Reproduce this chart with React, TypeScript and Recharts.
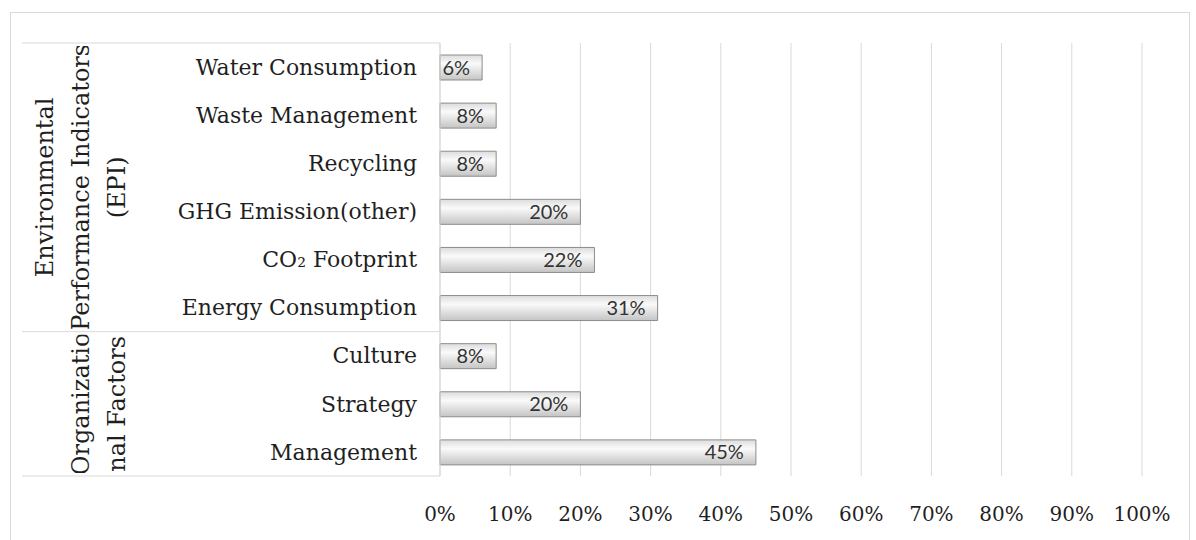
import { BarChart, Bar, XAxis, YAxis, CartesianGrid, LabelList } from 'recharts'

const categories = [
  'Water Consumption',
  'Waste Management',
  'Recycling',
  'GHG Emission(other)',
  'CO₂ Footprint',
  'Energy Consumption',
  'Culture',
  'Strategy',
  'Management',
]
const shares = [6, 8, 8, 20, 22, 31, 8, 20, 45]
const groupLabels = [['Environmental', 'Performance Indicators', '(EPI)'], ['Organizatio', 'nal Factors']]
const groupSizes = [6, 3]
const xTicks = [0, 10, 20, 30, 40, 50, 60, 70, 80, 90, 100]

const data = categories.map((name, i) => ({ name, value: shares[i] }))

const W = 1196
const H = 540
const MARGIN = { top: 43, right: 54, bottom: 0, left: 0 }
const X_AXIS_H = 64
const PLOT_H = H - MARGIN.top - MARGIN.bottom - X_AXIS_H
const BAND = PLOT_H / categories.length

const SERIF = '"DejaVu Serif", serif'
const LINE = '#d9d9d9'
const TEXT = '#1f1f1f'

// index of the first category in each group
const groupStarts = groupSizes.map((_, g) => groupSizes.slice(0, g).reduce((a, b) => a + b, 0))

function CategoryTick(props: any) {
  const { x, y, payload, index } = props
  const g = groupStarts.indexOf(index)
  const isLast = index === categories.length - 1
  let group = null
  if (g >= 0) {
    const top = y - BAND / 2
    const bottom = top + groupSizes[g] * BAND
    const cy = (top + bottom) / 2
    const lines = groupLabels[g]
    const lastX = 117
    group = (
      <g>
        <defs>
          <clipPath id={`grp-${g}`}>
            <rect x={20} y={top + 3} width={115} height={bottom - top - 6} />
          </clipPath>
        </defs>
        <line x1={22} x2={x} y1={top} y2={top} stroke={LINE} />
        <g clipPath={`url(#grp-${g})`}>
          {lines.map((t, k) => {
            const lx = lastX - (lines.length - 1 - k) * 36
            return (
              <text
                key={k}
                x={lx}
                y={cy}
                transform={`rotate(-90 ${lx} ${cy})`}
                textAnchor="middle"
                dominantBaseline="central"
                fontFamily={SERIF}
                fontSize={24}
                fill={TEXT}
              >
                {t}
              </text>
            )
          })}
        </g>
      </g>
    )
  }
  return (
    <g>
      {group}
      {isLast && <line x1={22} x2={x} y1={y + BAND / 2} y2={y + BAND / 2} stroke={LINE} />}
      <text x={x - 23} y={y} dy="0.35em" textAnchor="end" fontFamily={SERIF} fontSize={22} fill={TEXT}>
        {payload.value}
      </text>
    </g>
  )
}

function PercentTick(props: any) {
  const { x, y, payload } = props
  return (
    <text x={x} y={y + 45} textAnchor="middle" fontFamily={SERIF} fontSize={20} fill={TEXT}>
      {`${payload.value}%`}
    </text>
  )
}

export default function App() {
  return (
    <div style={{ position: 'absolute', left: 0, top: 0, width: W, height: H, background: '#fff' }}>
      <div
        style={{
          position: 'absolute',
          left: 10,
          top: 12,
          width: 1178,
          height: 540,
          border: `1px solid ${LINE}`,
        }}
      />
      <div style={{ position: 'absolute', left: 0, top: 0 }}>
        <BarChart width={W} height={H} data={data} layout="vertical" margin={MARGIN}>
          <defs>
            <linearGradient id="barFill" x1="0" y1="0" x2="0" y2="1">
              <stop offset="0%" stopColor="#dcdcdc" />
              <stop offset="35%" stopColor="#fafafa" />
              <stop offset="100%" stopColor="#c4c4c4" />
            </linearGradient>
          </defs>
          <CartesianGrid horizontal={false} stroke={LINE} />
          <XAxis
            type="number"
            domain={[0, 100]}
            ticks={xTicks}
            axisLine={false}
            tickLine={false}
            tickSize={0}
            tickMargin={0}
            height={X_AXIS_H}
            tick={<PercentTick />}
            interval={0}
          />
          <YAxis
            type="category"
            dataKey="name"
            width={440}
            axisLine={{ stroke: LINE }}
            tickLine={false}
            tickSize={0}
            tickMargin={0}
            interval={0}
            tick={<CategoryTick />}
          />
          <Bar dataKey="value" fill="url(#barFill)" stroke="#8c8c8c" strokeWidth={1} barSize={25} isAnimationActive={false}>
            <LabelList
              dataKey="value"
              position="insideRight"
              offset={12}
              formatter={(v: any) => `${v}%`}
              fontFamily="Lato, sans-serif"
              fontSize={20}
              fill="#333333"
            />
          </Bar>
        </BarChart>
      </div>
    </div>
  )
}
